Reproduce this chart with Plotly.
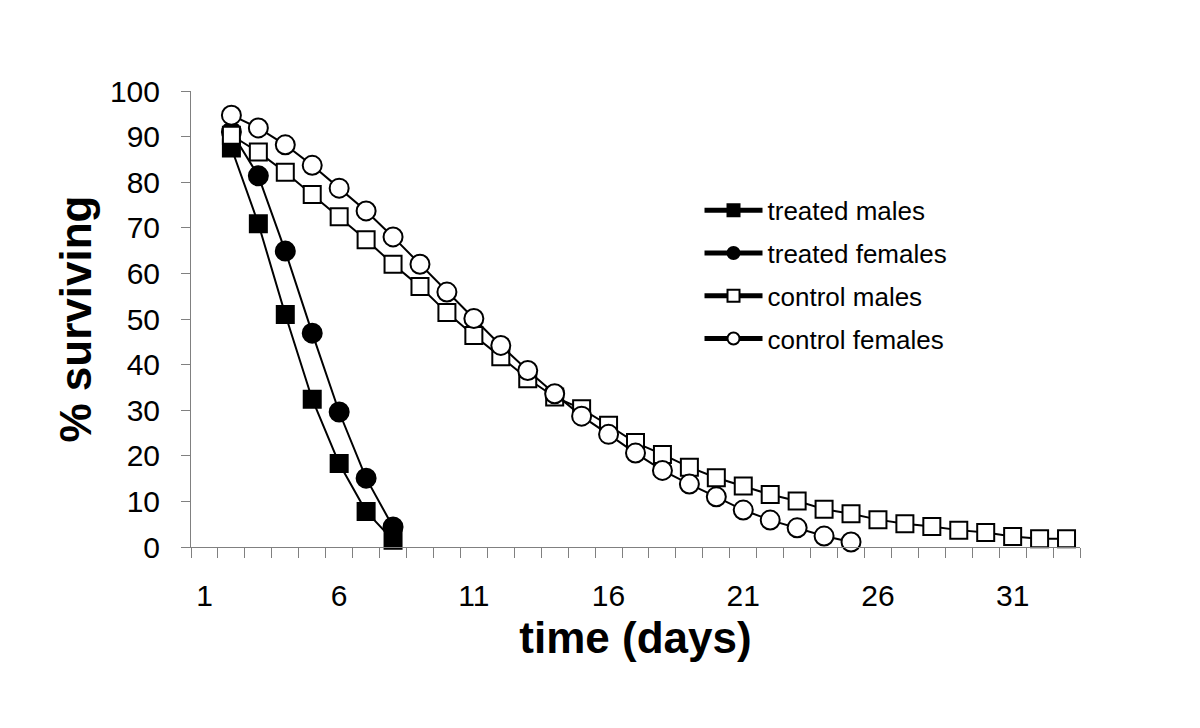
import plotly.graph_objects as go

days_treated = [2, 3, 4, 5, 6, 7, 8]
treated_males = [87.5, 70.9, 51.0, 32.4, 18.3, 7.8, 1.5]
treated_females = [91.0, 81.4, 64.9, 46.9, 29.6, 15.1, 4.4]

days_control_males = list(range(2, 34))
control_males = [90.3, 86.6, 82.2, 77.3, 72.4, 67.4, 62.0, 57.1, 51.4, 46.4,
                 41.7, 36.9, 32.9, 30.3, 26.7, 22.9, 20.3, 17.5, 15.2, 13.4,
                 11.5, 10.1, 8.3, 7.3, 6.0, 5.1, 4.5, 3.7, 3.2, 2.3, 1.8, 1.8]

days_control_females = list(range(2, 26))
control_females = [94.7, 91.9, 88.2, 83.7, 78.7, 73.7, 68.0, 62.0, 55.9, 50.1,
                   44.2, 38.7, 33.6, 28.7, 24.7, 20.6, 16.8, 13.8, 11.0, 8.1,
                   5.9, 4.2, 2.4, 1.1]

x_tick_vals = [1, 6, 11, 16, 21, 26, 31]
x_tick_text = ["1", "6", "11", "16", "21", "26", "31"]
y_tick_vals = [0, 10, 20, 30, 40, 50, 60, 70, 80, 90, 100]

FONT = "Arial, Liberation Sans, sans-serif"

fig = go.Figure()

def add(name, x, y, symbol, fill, size, group):
    fig.add_trace(go.Scatter(
        x=x, y=y, name=name, mode="lines+markers",
        line=dict(color="black", width=2),
        marker=dict(symbol=symbol, size=size, color=fill,
                    line=dict(color="black", width=2)),
        cliponaxis=False, legendgroup=group,
    ))

add("treated males", days_treated, treated_males, "square", "black", 17, "a")
add("treated females", days_treated, treated_females, "circle", "black", 19, "b")
add("control males", days_control_males, control_males, "square", "white", 17, "c")
add("control females", days_control_females, control_females, "circle", "white", 19, "d")

fig.update_layout(
    width=1200, height=728,
    margin=dict(l=183, r=128, t=83, b=189),
    paper_bgcolor="white", plot_bgcolor="white",
    font=dict(family=FONT, color="black"),
    showlegend=True,
    legend=dict(
        x=0.572, y=0.79, xanchor="left", yanchor="top",
        font=dict(size=26, family=FONT, color="black"),
        itemsizing="constant", traceorder="grouped", tracegroupgap=6,
        bgcolor="rgba(0,0,0,0)", itemwidth=58,
    ),
)

fig.update_xaxes(
    range=[0.5, 33.5], showgrid=False, zeroline=False, automargin=False,
    showline=True, linecolor="#808080", linewidth=1,
    tickmode="array", tickvals=x_tick_vals, ticktext=x_tick_text,
    ticks="outside", ticklen=0, tickcolor="#808080",
    tickfont=dict(size=30, family=FONT, color="black"),
    ticklabelstandoff=22,
    minor=dict(ticks="outside", ticklen=10, tickcolor="#808080",
               tickmode="linear", tick0=0.5, dtick=1, showgrid=False),
    title=dict(text="<b>time (days)</b>", font=dict(size=44, family=FONT, color="black"),
               standoff=11),
)

fig.update_yaxes(
    range=[0, 100], showgrid=False, zeroline=False, automargin=False,
    showline=True, linecolor="#808080", linewidth=1,
    tickmode="array", tickvals=y_tick_vals,
    ticks="outside", ticklen=9, tickcolor="#808080",
    tickfont=dict(size=30, family=FONT, color="black"),
    ticklabelstandoff=15,
    title=dict(text="<b>% surviving</b>", font=dict(size=44, family=FONT, color="black"),
               standoff=4),
)

fig.write_html("out.html")
